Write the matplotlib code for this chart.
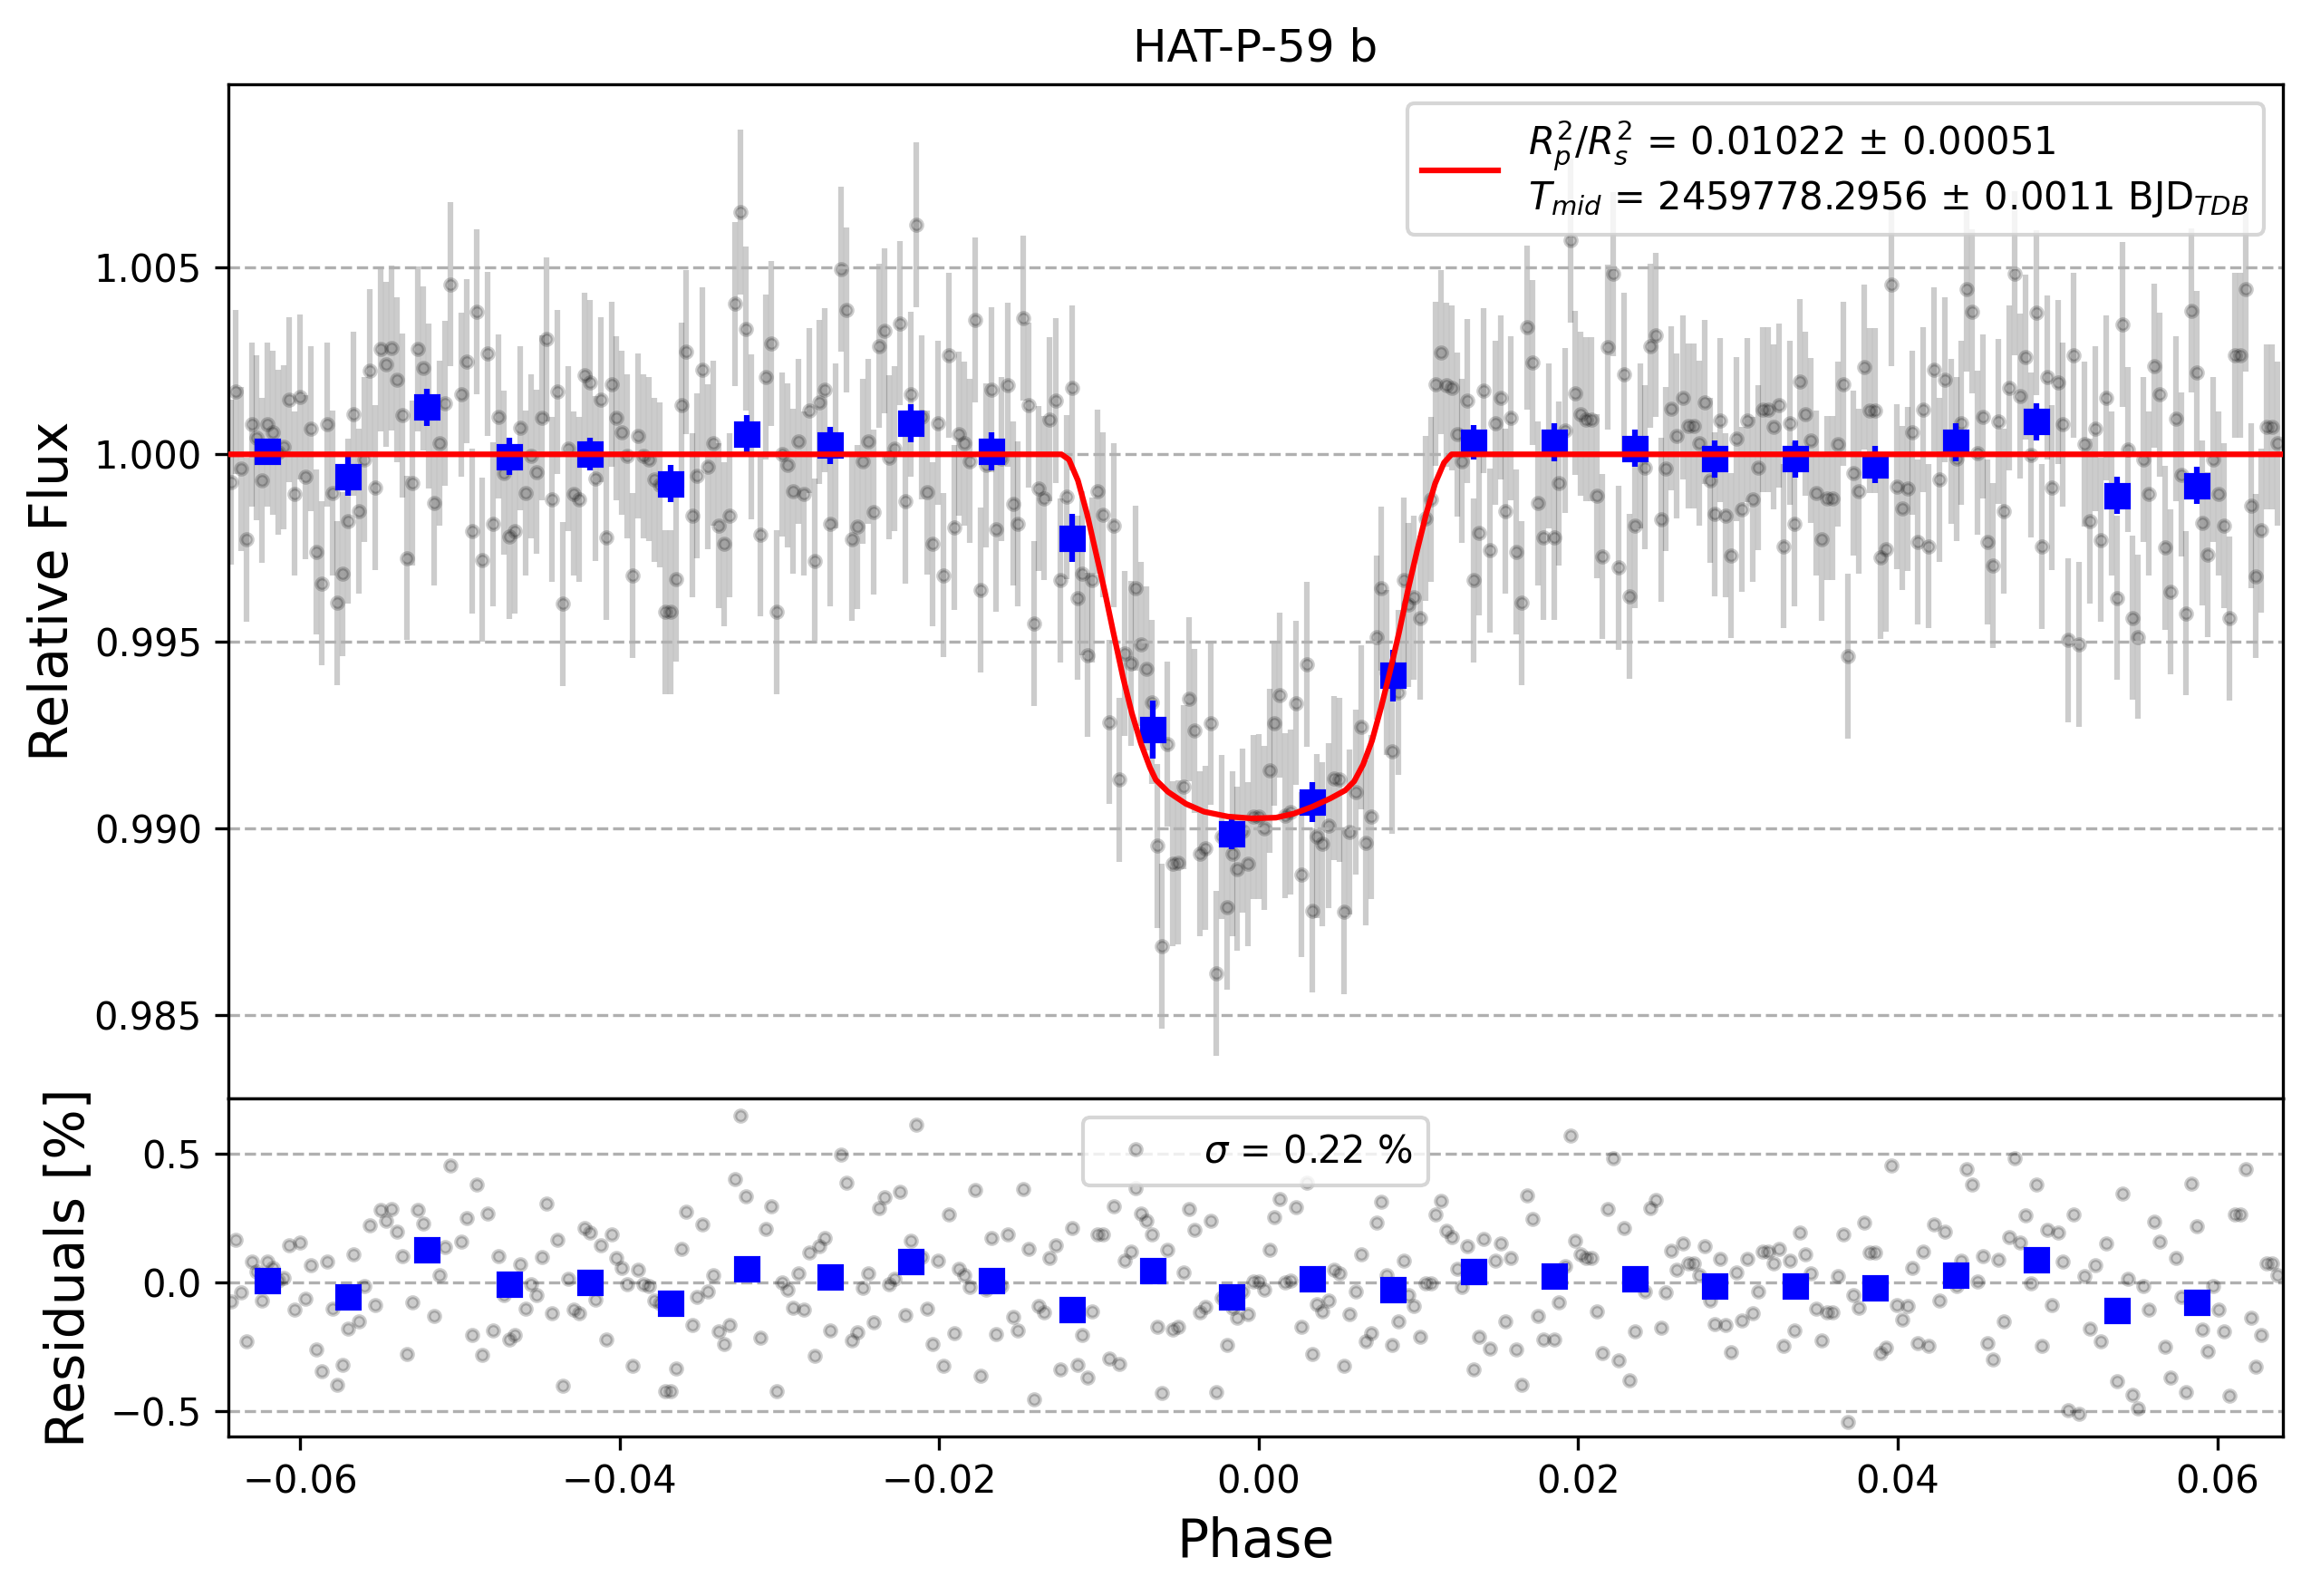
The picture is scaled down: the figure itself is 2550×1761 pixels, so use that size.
import numpy as np
import matplotlib.pyplot as plt

# phase of every exposure and its residual in percent
phase = np.array([
    -0.06431, -0.06403, -0.06372, -0.06336, -0.06305, -0.06271, -0.06237, -0.06204, -0.06170, -0.06137,
    -0.06101, -0.06071, -0.06036, -0.06004, -0.05968, -0.05935, -0.05899, -0.05866, -0.05832, -0.05800,
    -0.05767, -0.05735, -0.05702, -0.05668, -0.05632, -0.05599, -0.05565, -0.05532, -0.05496, -0.05464,
    -0.05426, -0.05395, -0.05361, -0.05332, -0.05298, -0.05265, -0.05231, -0.05197, -0.05162, -0.05128,
    -0.05092, -0.05061, -0.04992, -0.04958, -0.04922, -0.04893, -0.04861, -0.04828, -0.04792, -0.04758,
    -0.04725, -0.04691, -0.04658, -0.04624, -0.04590, -0.04557, -0.04521, -0.04487, -0.04458, -0.04424,
    -0.04391, -0.04357, -0.04321, -0.04288, -0.04254, -0.04221, -0.04187, -0.04151, -0.04118, -0.04084,
    -0.04050, -0.04019, -0.03985, -0.03952, -0.03918, -0.03884, -0.03851, -0.03817, -0.03784, -0.03750,
    -0.03714, -0.03683, -0.03649, -0.03611, -0.03584, -0.03548, -0.03515, -0.03481, -0.03448, -0.03414,
    -0.03380, -0.03345, -0.03311, -0.03277, -0.03242, -0.03208, -0.03174,
    -0.03118, -0.03085, -0.03049, -0.03016, -0.02982, -0.02949, -0.02915, -0.02882, -0.02846, -0.02812,
    -0.02779, -0.02750, -0.02716, -0.02683, -0.02649, -0.02614, -0.02580, -0.02547, -0.02513, -0.02480,
    -0.02444, -0.02410, -0.02377, -0.02343, -0.02314, -0.02281, -0.02247, -0.02214, -0.02180, -0.02142,
    -0.02111, -0.02077, -0.02042, -0.02010, -0.01975, -0.01941, -0.01908, -0.01879, -0.01845, -0.01812,
    -0.01778, -0.01742, -0.01709, -0.01675, -0.01642, -0.01608, -0.01573, -0.01539, -0.01506, -0.01476,
    -0.01441, -0.01409, -0.01376, -0.01342, -0.01309, -0.01273, -0.01240, -0.01204, -0.01169, -0.01137,
    -0.01104, -0.01070, -0.01041, -0.01007, -0.00974, -0.00938, -0.00905, -0.00871, -0.00838, -0.00802,
    -0.00771, -0.00735, -0.00702, -0.00668, -0.00635, -0.00605, -0.00572, -0.00538, -0.00505, -0.00471,
    -0.00434, -0.00400, -0.00367, -0.00333, -0.00300, -0.00266, -0.00233, -0.00199, -0.00166, -0.00136,
    -0.00099, -0.00065, -0.00032, 0.00002, 0.00035, 0.00069,
    0.00097, 0.00133, 0.00165, 0.00198, 0.00232, 0.00265, 0.00301, 0.00333, 0.00366, 0.00400,
    0.00435, 0.00469, 0.00503, 0.00536, 0.00570, 0.00606, 0.00639, 0.00669, 0.00702, 0.00736,
    0.00769, 0.00803, 0.00837, 0.00872, 0.00906, 0.00939, 0.00973, 0.01009, 0.01042, 0.01076,
    0.01105, 0.01139, 0.01173, 0.01206, 0.01240, 0.01273, 0.01307, 0.01343, 0.01376, 0.01410,
    0.01448, 0.01481, 0.01515, 0.01542, 0.01578, 0.01611, 0.01645, 0.01679, 0.01712, 0.01746,
    0.01779, 0.01813, 0.01847, 0.01880, 0.01916, 0.01950, 0.01979, 0.02013, 0.02046, 0.02080,
    0.02116, 0.02149, 0.02183, 0.02216, 0.02252, 0.02286, 0.02319, 0.02353, 0.02386, 0.02418,
    0.02449, 0.02483, 0.02517, 0.02550, 0.02584, 0.02617, 0.02655, 0.02689, 0.02722, 0.02756,
    0.02790, 0.02823, 0.02853, 0.02888, 0.02922, 0.02956, 0.02989, 0.03023, 0.03056, 0.03090,
    0.03124, 0.03157, 0.03191, 0.03224, 0.03258,
    0.03286, 0.03322, 0.03354, 0.03387, 0.03423, 0.03456, 0.03490, 0.03524, 0.03559, 0.03593,
    0.03626, 0.03660, 0.03687, 0.03723, 0.03757, 0.03790, 0.03824, 0.03857, 0.03891, 0.03927,
    0.03960, 0.03994, 0.04027, 0.04061, 0.04092, 0.04126, 0.04160, 0.04195, 0.04227, 0.04262,
    0.04296, 0.04332, 0.04367, 0.04399, 0.04432, 0.04466, 0.04499, 0.04531, 0.04562, 0.04598,
    0.04632, 0.04665, 0.04699, 0.04732, 0.04768, 0.04800, 0.04835, 0.04869, 0.04902, 0.04936,
    0.04965, 0.05001, 0.05033, 0.05068, 0.05102, 0.05135, 0.05169, 0.05205, 0.05238, 0.05272,
    0.05305, 0.05341, 0.05375, 0.05404, 0.05438, 0.05471, 0.05505, 0.05538, 0.05572, 0.05605,
    0.05639, 0.05673, 0.05708, 0.05742, 0.05775, 0.05805, 0.05840, 0.05874, 0.05908, 0.05941,
    0.05975, 0.06008, 0.06042, 0.06078, 0.06111, 0.06145, 0.06178, 0.06212, 0.06241, 0.06275,
    0.06308, 0.06342, 0.06376,
])

resid_pct = np.array([
    -0.074, 0.167, -0.039, -0.228, 0.080, 0.044, -0.070, 0.080, 0.058, 0.006,
    0.019, 0.146, -0.105, 0.154, -0.061, 0.069, -0.261, -0.345, 0.080, -0.103,
    -0.398, -0.320, -0.179, 0.108, -0.152, -0.014, 0.223, -0.089, 0.282, 0.241,
    0.284, 0.199, 0.104, -0.277, -0.077, 0.282, 0.230, 0.129, -0.130, 0.030,
    0.137, 0.455, 0.160, 0.249, -0.205, 0.381, -0.282, 0.269, -0.187, 0.101,
    -0.049, -0.220, -0.205, 0.070, -0.103, -0.005, -0.047, 0.098, 0.308, -0.120,
    0.167, -0.400, 0.015, -0.105, -0.120, 0.212, 0.193, -0.065, 0.146, -0.222,
    0.187, 0.097, 0.058, -0.005, -0.324, 0.049, -0.005, -0.013, -0.068, -0.082,
    -0.422, -0.422, -0.335, 0.132, 0.274, -0.163, -0.057, 0.227, -0.033, 0.030,
    -0.191, -0.240, -0.163, 0.402, 0.648, 0.336, 0.047,
    -0.214, 0.207, 0.297, -0.422, 0.000, -0.029, -0.099, 0.035, -0.105, 0.117,
    -0.285, 0.140, 0.172, -0.186, 0.023, 0.495, 0.386, -0.226, -0.194, -0.019,
    0.035, -0.154, 0.290, 0.330, -0.008, 0.015, 0.351, -0.126, 0.161, 0.614,
    0.099, -0.102, -0.240, 0.084, -0.323, 0.265, -0.196, 0.055, 0.029, -0.018,
    0.360, -0.363, -0.029, 0.173, -0.201, -0.012, 0.186, -0.132, -0.186, 0.364,
    0.132, -0.453, -0.091, -0.117, 0.094, 0.144, -0.337, -0.105, 0.211, -0.319,
    -0.205, -0.368, -0.113, 0.187, 0.187, -0.296, 0.297, -0.316, 0.084, 0.120,
    0.367, 0.269, 0.241, 0.187, -0.173, -0.429, 0.126, -0.184, -0.171, 0.041,
    0.284, 0.206, -0.117, -0.096, 0.241, -0.426, -0.058, -0.243, -0.099, -0.138,
    -0.035, -0.123, 0.004, 0.004, -0.027, 0.126,
    0.253, 0.325, 0.000, 0.006, 0.294, -0.170, 0.386, -0.277, -0.085, -0.113,
    -0.070, 0.049, 0.037, -0.324, -0.124, -0.036, 0.111, -0.228, -0.196, 0.234,
    0.313, 0.029, -0.242, -0.149, 0.084, -0.049, -0.092, -0.211, -0.002, -0.002,
    0.265, 0.316, 0.202, 0.178, 0.053, -0.018, 0.143, -0.337, -0.211, 0.171,
    -0.257, 0.084, 0.152, -0.152, 0.097, -0.261, -0.398, 0.339, 0.246, -0.131,
    -0.222, 0.023, -0.222, -0.078, 0.064, 0.572, 0.164, 0.108, 0.094, 0.094,
    -0.112, -0.273, 0.287, 0.482, -0.303, 0.213, -0.380, -0.191, 0.023, -0.035,
    0.290, 0.319, -0.175, -0.039, 0.123, 0.049, 0.152, 0.076, 0.076, 0.030,
    0.140, -0.070, -0.160, 0.091, -0.163, -0.271, 0.041, -0.147, 0.091, -0.120,
    -0.036, 0.119, 0.119, 0.073, 0.131,
    -0.246, 0.084, -0.187, 0.195, 0.108, 0.037, -0.103, -0.226, -0.117, -0.117,
    0.027, 0.188, -0.540, -0.050, -0.099, 0.234, 0.117, 0.117, -0.275, -0.254,
    0.455, -0.087, -0.144, -0.092, 0.058, -0.235, 0.119, -0.246, 0.227, -0.068,
    0.199, 0.035, -0.012, 0.084, 0.441, 0.382, 0.004, 0.101, -0.235, -0.298,
    0.088, -0.152, 0.178, 0.484, 0.156, 0.260, -0.002, 0.379, -0.247, 0.206,
    -0.089, 0.193, 0.080, -0.497, 0.265, -0.508, 0.027, -0.179, 0.069, -0.229,
    0.151, -0.105, -0.384, 0.347, 0.013, -0.437, -0.488, -0.014, -0.105, 0.237,
    0.160, -0.250, -0.368, 0.095, -0.054, -0.425, 0.385, 0.218, -0.184, -0.268,
    -0.014, -0.105, -0.191, -0.439, 0.265, 0.265, 0.441, -0.138, -0.326, -0.204,
    0.073, 0.073, 0.029,
])

flux_err = 0.0022

# fitted transit model
model_phase = [-0.0645, -0.01235, -0.01188, -0.01132, -0.01075, -0.01019, -0.00963, -0.00907,
               -0.00850, -0.00794, -0.00737, -0.00681, -0.00644, -0.00568, -0.00456, -0.00343,
               -0.00193, -0.00042, 0.00108, 0.00221, 0.00334, 0.00446, 0.00541, 0.00597,
               0.00653, 0.00709, 0.00766, 0.00822, 0.00879, 0.00935, 0.00992, 0.01048,
               0.01104, 0.01160, 0.01207, 0.0641]
model_flux = [1.0, 1.0, 0.99986, 0.99930, 0.99841, 0.99736, 0.99631, 0.99517,
              0.99404, 0.99307, 0.99226, 0.99162, 0.99129, 0.99097, 0.99065, 0.99044,
              0.99031, 0.99026, 0.99028, 0.99039, 0.99057, 0.99079, 0.99101, 0.99125,
              0.99170, 0.99234, 0.99323, 0.99420, 0.99525, 0.99639, 0.99744, 0.99841,
              0.99922, 0.99978, 1.0, 1.0]

# binned points
bin_phase = [-0.06206, -0.05700, -0.05206, -0.04689, -0.04185, -0.03679, -0.03206, -0.02681,
             -0.02178, -0.01673, -0.01171, -0.00666, -0.00168, 0.00334, 0.00841, 0.01345,
             0.01849, 0.02355, 0.02855, 0.03356, 0.03859, 0.04365, 0.04869, 0.05375, 0.05874]
bin_flux = [1.00009, 0.99941, 1.00126, 0.99994, 1.00001, 0.99921, 1.00055, 1.00024,
            1.00083, 1.00008, 0.99776, 0.99264, 0.98984, 0.99069, 0.99408, 1.00032,
            1.00032, 1.00016, 0.99988, 0.99988, 0.99972, 1.00032, 1.00087, 0.99890, 0.99917]
bin_err = [0.0003, 0.00053, 0.00049, 0.0005, 0.00043, 0.0005, 0.0005, 0.0005,
           0.0005, 0.0005, 0.00064, 0.00078, 0.0004, 0.00053, 0.00069, 0.00047,
           0.0005, 0.0005, 0.0005, 0.0005, 0.0005, 0.0005, 0.0005, 0.0005, 0.0005]
bin_resid = [0.009, -0.057, 0.129, -0.005, 0.002, -0.082, 0.055, 0.020,
             0.083, 0.009, -0.106, 0.048, -0.054, 0.013, -0.029, 0.044,
             0.027, 0.015, -0.012, -0.012, -0.022, 0.030, 0.087, -0.110, -0.078]

# data = model + residuals
flux = np.interp(phase, model_phase, model_flux) + resid_pct / 100

fig, (ax_lc, ax_res) = plt.subplots(2, 1, figsize=(8.5, 5.87), dpi=300, sharex=True,
                                    gridspec_kw={'height_ratios': [3, 1]})
fig.subplots_adjust(left=0.0988, right=0.9878, top=0.9472, bottom=0.1, hspace=0)

ax_lc.set_title('HAT-P-59 b')
ax_lc.errorbar(phase, flux, yerr=flux_err, ls='none', marker='o', color='black',
               ms=3, alpha=0.2, zorder=1)
ax_lc.plot(model_phase, model_flux, 'r-', lw=1.5, zorder=1000,
           label=r'$R^{2}_{p}/R^{2}_{s}$ = 0.01022 $\pm$ 0.00051' + '\n'
                 r'$T_{mid}$ = 2459778.2956 $\pm$ 0.0011 BJD$_{TDB}$')
ax_lc.errorbar(bin_phase, bin_flux, yerr=bin_err, fmt='s', ms=6, color='blue', zorder=10)
ax_lc.set_ylabel('Relative Flux', fontsize=14)
ax_lc.grid(True, axis='y', ls='--')
ax_lc.legend(loc='upper right')
ax_lc.set_ylim(0.98277, 1.0099)
ax_lc.tick_params(axis='x', which='both', bottom=False)

ax_res.plot(phase, resid_pct, 'ko', ms=3, alpha=0.2, label=r'$\sigma$ = 0.22 %')
ax_res.plot(bin_phase, bin_resid, 'bs', ms=6, zorder=10)
ax_res.set_xlabel('Phase', fontsize=14)
ax_res.set_ylabel('Residuals [%]', fontsize=14)
ax_res.grid(True, axis='y', ls='--')
ax_res.legend(loc='upper center', numpoints=1)
ax_res.set_ylim(-0.597, 0.715)
ax_res.set_xlim(-0.0645, 0.0641)

plt.savefig('out.png', dpi=300)
